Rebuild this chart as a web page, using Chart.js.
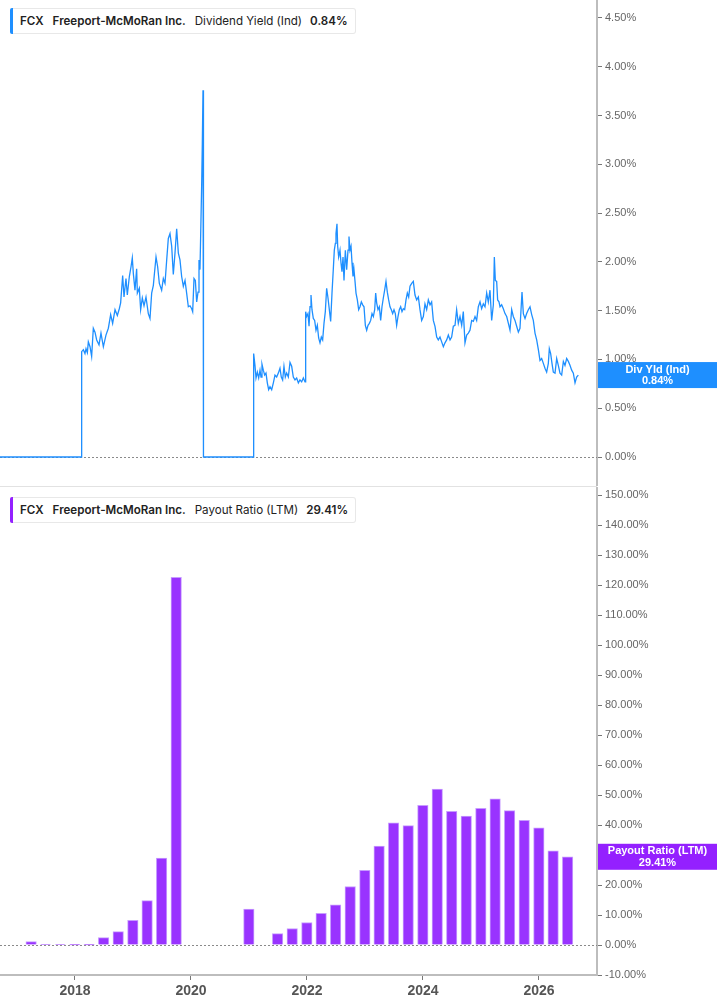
<!DOCTYPE html>
<html>
<head>
<meta charset="utf-8">
<script src="https://cdn.jsdelivr.net/npm/chart.js@4.4.1/dist/chart.umd.min.js"></script>
<style>
  body { margin: 0; background: #fff; width: 717px; height: 1005px; position: relative; overflow: hidden; font-family: Inter, "Noto Sans", sans-serif; }
  #topChart { position: absolute; left: 0; top: 0; }
  #botChart { position: absolute; left: 0; top: 487px; }
  .sep { position: absolute; left: 0; top: 486px; width: 597px; height: 1px; background: #e2e2e2; }
  .legend { position: absolute; left: 10px; height: 24px; border: 1px solid #e8e8e8; border-left: none; border-radius: 3px; display: flex; align-items: center; font-size: 11.6px; color: #222; background: #fff; padding-right: 7px; white-space: nowrap; }
  .legend .mark { width: 3px; align-self: stretch; border-radius: 2px 0 0 2px; margin: -1px 7px -1px 0; }
  .legend b { font-weight: 600; margin-right: 9px; }
  .legend span.t { margin-right: 8px; }
  .legend b:last-child { margin-right: 0; }
</style>
</head>
<body>
<canvas id="topChart" width="717" height="486"></canvas>
<div class="sep"></div>
<canvas id="botChart" width="717" height="518"></canvas>

<div class="legend" style="top:8px"><span class="mark" style="background:#1e8fff"></span><b>FCX</b><b>Freeport-McMoRan Inc.</b><span class="t">Dividend Yield (Ind)</span><b>0.84%</b></div>
<div class="legend" style="top:497px"><span class="mark" style="background:#9420ff"></span><b>FCX</b><b>Freeport-McMoRan Inc.</b><span class="t">Payout Ratio (LTM)</span><b>29.41%</b></div>

<script>
// x axis range (decimal years) and labelled years
const xMin = 2016.707;
const xMax = 2027.0;
const yearTicks = [2018, 2020, 2022, 2024, 2026];
const yieldTicksMax = 4.684, yieldTicksMin = -0.297;

// dividend yield (ind), %
const yieldYears = [
  2016.600, 2018.110,
  2018.115, 2018.144, 2018.172, 2018.190, 2018.213, 2018.230, 2018.259, 2018.287, 2018.316, 2018.345,
  2018.374, 2018.414, 2018.448, 2018.489, 2018.534, 2018.575, 2018.615, 2018.649, 2018.690, 2018.730,
  2018.764, 2018.787, 2018.822, 2018.845, 2018.879, 2018.902, 2018.937, 2018.966, 2018.988, 2019.006,
  2019.034, 2019.063, 2019.075, 2019.109, 2019.132, 2019.161, 2019.190, 2019.224, 2019.264, 2019.293,
  2019.322, 2019.351, 2019.368, 2019.397, 2019.425, 2019.454, 2019.494, 2019.523, 2019.552, 2019.581,
  2019.609, 2019.638, 2019.667, 2019.695, 2019.724, 2019.753, 2019.782, 2019.810, 2019.839, 2019.868,
  2019.897, 2019.925, 2019.954, 2019.983, 2020.012, 2020.029, 2020.052, 2020.075, 2020.098, 2020.121,
  2020.138, 2020.155, 2020.172, 2020.184, 2020.195, 2020.207,
  2020.215, 2021.070,
  2021.075, 2021.086, 2021.103, 2021.121, 2021.144, 2021.167, 2021.190, 2021.207, 2021.224, 2021.247,
  2021.270, 2021.293, 2021.316, 2021.339, 2021.362, 2021.391, 2021.420, 2021.448, 2021.477, 2021.506,
  2021.534, 2021.557, 2021.580, 2021.603, 2021.626, 2021.649, 2021.678, 2021.707, 2021.736, 2021.764,
  2021.793, 2021.822, 2021.851, 2021.879, 2021.908, 2021.937, 2021.966, 2021.977, 2021.994, 2022.017,
  2022.035, 2022.052, 2022.069, 2022.086, 2022.109, 2022.132, 2022.155, 2022.178, 2022.201, 2022.224,
  2022.247, 2022.270, 2022.293, 2022.316, 2022.339, 2022.362, 2022.385, 2022.408, 2022.431, 2022.454,
  2022.471, 2022.489, 2022.500, 2022.517, 2022.529, 2022.546, 2022.569, 2022.586, 2022.603, 2022.621,
  2022.638, 2022.661, 2022.684, 2022.707, 2022.724, 2022.741, 2022.759, 2022.776, 2022.793, 2022.810,
  2022.828, 2022.845, 2022.868, 2022.891, 2022.914, 2022.937, 2022.960, 2022.983, 2023.006, 2023.029,
  2023.052, 2023.075, 2023.098, 2023.121, 2023.144, 2023.167, 2023.184, 2023.201, 2023.224, 2023.247,
  2023.270, 2023.293, 2023.316, 2023.339, 2023.362, 2023.385, 2023.408, 2023.431, 2023.454, 2023.477,
  2023.500, 2023.523, 2023.546, 2023.569, 2023.592, 2023.615, 2023.638, 2023.661, 2023.684, 2023.707,
  2023.730, 2023.753, 2023.776, 2023.805, 2023.833, 2023.862, 2023.891, 2023.920, 2023.948, 2023.977,
  2024.006, 2024.034, 2024.063, 2024.092, 2024.121, 2024.149, 2024.178, 2024.207, 2024.236, 2024.264,
  2024.293, 2024.322, 2024.351, 2024.379, 2024.408, 2024.437, 2024.466, 2024.494, 2024.523, 2024.552,
  2024.580, 2024.609, 2024.638, 2024.667, 2024.695, 2024.724, 2024.753, 2024.782, 2024.810, 2024.839,
  2024.868, 2024.897, 2024.925, 2024.954, 2024.983, 2025.011, 2025.040, 2025.069, 2025.098, 2025.126,
  2025.155, 2025.184, 2025.213, 2025.230, 2025.247, 2025.270, 2025.287, 2025.310, 2025.328, 2025.356,
  2025.385, 2025.414, 2025.443, 2025.472, 2025.500, 2025.529, 2025.557, 2025.586, 2025.615, 2025.644,
  2025.672, 2025.690, 2025.707, 2025.730, 2025.759, 2025.787, 2025.816, 2025.845, 2025.874, 2025.902,
  2025.931, 2025.960, 2025.989, 2026.017, 2026.046, 2026.075, 2026.103, 2026.132, 2026.161, 2026.178,
  2026.201, 2026.224, 2026.247, 2026.276, 2026.305, 2026.333, 2026.362, 2026.391, 2026.420, 2026.448,
  2026.477, 2026.506, 2026.534, 2026.563, 2026.592, 2026.621, 2026.649, 2026.678
];
const yieldValues = [
  0, 0,
  1.08, 1.10, 1.06, 1.11, 1.07, 1.18, 1.13, 1.03, 1.32, 1.28,
  1.20, 1.15, 1.27, 1.13, 1.25, 1.32, 1.46, 1.37, 1.51, 1.45,
  1.52, 1.58, 1.86, 1.64, 1.83, 1.66, 1.85, 1.95, 2.04, 1.88,
  1.71, 1.93, 1.68, 1.73, 1.51, 1.63, 1.55, 1.64, 1.47, 1.42,
  1.68, 1.76, 1.87, 2.05, 1.95, 1.78, 1.71, 1.83, 1.78, 2.02,
  2.24, 2.29, 2.16, 1.87, 2.09, 2.34, 2.09, 2.02, 1.85, 1.75,
  1.81, 1.68, 1.54, 1.55, 1.52, 1.49, 1.83, 1.81, 1.59, 1.69,
  2.02, 1.92, 2.43, 2.79, 3.20, 3.76,
  0, 0,
  1.06, 1.06, 0.94, 0.81, 0.87, 0.81, 0.89, 0.82, 0.95, 0.89,
  0.84, 0.86, 0.76, 0.69, 0.72, 0.69, 0.76, 0.84, 0.82, 0.86,
  0.91, 0.82, 0.79, 0.93, 0.82, 0.86, 0.82, 0.97, 0.93, 0.82,
  0.79, 0.81, 0.76, 0.79, 0.77, 0.81, 0.77, 1.49, 1.44, 1.47,
  1.34, 1.54, 1.66, 1.51, 1.42, 1.40, 1.30, 1.35, 1.22, 1.17,
  1.23, 1.20, 1.37, 1.49, 1.73, 1.63, 1.51, 1.39, 1.68, 1.93,
  2.12, 2.19, 2.29, 2.39, 2.16, 2.05, 2.12, 1.99, 1.90, 2.05,
  1.81, 2.12, 1.92, 2.12, 2.26, 2.12, 2.16, 1.99, 1.85, 1.92,
  1.80, 1.68, 1.61, 1.51, 1.54, 1.59, 1.56, 1.54, 1.35, 1.30,
  1.35, 1.37, 1.40, 1.47, 1.44, 1.51, 1.68, 1.58, 1.51, 1.54,
  1.40, 1.54, 1.63, 1.71, 1.80, 1.69, 1.61, 1.54, 1.51, 1.47,
  1.51, 1.47, 1.35, 1.44, 1.51, 1.54, 1.49, 1.52, 1.51, 1.61,
  1.68, 1.64, 1.75, 1.78, 1.80, 1.66, 1.61, 1.64, 1.51, 1.40,
  1.44, 1.57, 1.51, 1.61, 1.56, 1.59, 1.40, 1.34, 1.23, 1.20,
  1.23, 1.18, 1.13, 1.17, 1.20, 1.25, 1.20, 1.23, 1.34, 1.35,
  1.51, 1.37, 1.44, 1.35, 1.49, 1.17, 1.25, 1.27, 1.30, 1.40,
  1.39, 1.44, 1.40, 1.54, 1.59, 1.52, 1.57, 1.54, 1.68, 1.59,
  1.71, 1.40, 1.56, 2.05, 1.81, 1.80, 1.61, 1.59, 1.54, 1.56,
  1.52, 1.47, 1.44, 1.37, 1.30, 1.51, 1.44, 1.40, 1.34, 1.28,
  1.32, 1.51, 1.69, 1.47, 1.42, 1.47, 1.51, 1.54, 1.46, 1.40,
  1.27, 1.20, 1.10, 0.99, 1.01, 0.96, 0.91, 0.87, 0.96, 1.11,
  1.06, 0.96, 0.87, 0.86, 1.01, 0.94, 0.86, 0.84, 0.98, 0.94,
  1.01, 0.98, 0.94, 0.89, 0.86, 0.76, 0.82, 0.84
];

// payout ratio (LTM), %, quarterly
const payoutDates = [
  '2017-03-31', '2017-06-30', '2017-09-30', '2017-12-31', '2018-03-31', '2018-06-30', '2018-09-30', '2018-12-31',
  '2019-03-31', '2019-06-30', '2019-09-30', '2020-12-31', '2021-06-30', '2021-09-30', '2021-12-31',
  '2022-03-31', '2022-06-30', '2022-09-30', '2022-12-31', '2023-03-31', '2023-06-30', '2023-09-30', '2023-12-31',
  '2024-03-31', '2024-06-30', '2024-09-30', '2024-12-31', '2025-03-31', '2025-06-30', '2025-09-30', '2025-12-31',
  '2026-03-31', '2026-06-30'
];
const payoutValues = [
  1.1, 0.1, 0.1, 0.05, 0.05, 2.45, 4.46, 8.25,
  14.8, 29.0, 122.6, 12.0, 3.8, 5.5, 7.5,
  10.6, 13.4, 19.5, 24.9, 33.0, 40.7, 39.8, 46.6,
  52.0, 44.6, 43.0, 45.6, 48.7, 44.8, 41.6, 39.1,
  31.4, 29.41
];

function toYear(iso) {
  const d = new Date(iso + 'T00:00:00Z');
  const y = d.getUTCFullYear();
  const start = Date.UTC(y, 0, 1), end = Date.UTC(y + 1, 0, 1);
  return y + (d - start) / (end - start);
}

const zeroLine = {
  id: 'zeroLine',
  beforeDatasetsDraw(chart) {
    const { ctx, chartArea, scales: { y } } = chart;
    const py = Math.round(y.getPixelForValue(0)) + 0.5;
    ctx.save();
    ctx.strokeStyle = '#8a8a8a';
    ctx.lineWidth = 1;
    ctx.setLineDash([2, 2]);
    ctx.beginPath();
    ctx.moveTo(chartArea.left, py);
    ctx.lineTo(chartArea.right, py);
    ctx.stroke();
    ctx.restore();
  }
};

const lastLabel = {
  id: 'lastLabel',
  afterDraw(chart, args, opts) {
    const { ctx, chartArea, scales: { y } } = chart;
    const py = y.getPixelForValue(opts.value);
    const x0 = chartArea.right + 1;
    ctx.save();
    ctx.fillStyle = opts.color;
    ctx.fillRect(x0, py - 13, chart.width - x0, 26);
    ctx.fillStyle = '#fff';
    ctx.font = 'bold 11px "Liberation Sans", Arial, sans-serif';
    ctx.textAlign = 'center';
    ctx.textBaseline = 'middle';
    const cx = (x0 + chart.width) / 2;
    ctx.fillText(opts.title, cx, py - 5.5);
    ctx.fillText(opts.text, cx, py + 6);
    ctx.restore();
  }
};

const yAxisBase = {
  position: 'right',
  afterFit: s => { s.width = 120; s.paddingTop = 0; s.paddingBottom = 0; },
  border: { display: true, color: '#bdbdbd', width: 2 },
  grid: { drawOnChartArea: false, drawTicks: true, tickLength: 5, tickColor: '#777', tickWidth: 1 },
  ticks: {
    includeBounds: false,
    color: '#666',
    padding: 3,
    font: { family: '"Liberation Sans", Arial, sans-serif', size: 11 },
    callback: v => v.toFixed(2) + '%'
  }
};

new Chart(document.getElementById('topChart'), {
  type: 'line',
  data: {
    datasets: [{
      data: yieldYears.map((x, i) => ({ x, y: yieldValues[i] })),
      borderColor: '#1e8fff',
      borderWidth: 1.3,
      pointRadius: 0,
      tension: 0
    }]
  },
  options: {
    responsive: false,
    animation: false,
    layout: { padding: 0 },
    plugins: {
      legend: { display: false },
      tooltip: { enabled: false },
      lastLabel: { value: 0.84, color: '#1e8fff', title: 'Div Yld (Ind)', text: '0.84%' }
    },
    scales: {
      x: { type: 'linear', display: false, offset: false, min: xMin, max: xMax },
      y: Object.assign({}, yAxisBase, {
        min: yieldTicksMin, max: yieldTicksMax,
        ticks: Object.assign({}, yAxisBase.ticks, { stepSize: 0.5 })
      })
    }
  },
  plugins: [zeroLine, lastLabel]
});

new Chart(document.getElementById('botChart'), {
  type: 'bar',
  data: {
    datasets: [{
      data: payoutDates.map((d, i) => ({ x: toYear(d), y: payoutValues[i] })),
      backgroundColor: '#9933ff',
      borderColor: '#c79cff',
      borderWidth: { top: 1, left: 1, right: 1, bottom: 0 },
      borderSkipped: false,
      barThickness: 10.5
    }]
  },
  options: {
    responsive: false,
    animation: false,
    layout: { padding: 0 },
    plugins: {
      legend: { display: false },
      tooltip: { enabled: false },
      lastLabel: { value: 29.41, color: '#9420ff', title: 'Payout Ratio (LTM)', text: '29.41%' }
    },
    scales: {
      x: {
        type: 'linear', min: xMin, max: xMax, offset: false,
        afterFit: s => { s.height = 30; s.paddingLeft = 0; s.paddingRight = 0; },
        afterBuildTicks: s => { s.ticks = yearTicks.map(v => ({ value: v })); },
        border: { display: true, color: '#bdbdbd', width: 2 },
        grid: { offset: false, drawOnChartArea: false, drawTicks: true, tickLength: 5, tickColor: '#777' },
        ticks: {
          color: '#555', padding: 3, maxRotation: 0, autoSkip: false,
          font: { family: '"Liberation Sans", Arial, sans-serif', size: 14, weight: 'bold' },
          callback: v => String(v)
        }
      },
      y: Object.assign({}, yAxisBase, {
        min: -10, max: 152.68,
        ticks: Object.assign({}, yAxisBase.ticks, { stepSize: 10 })
      })
    }
  },
  plugins: [zeroLine, lastLabel]
});
</script>
</body>
</html>
